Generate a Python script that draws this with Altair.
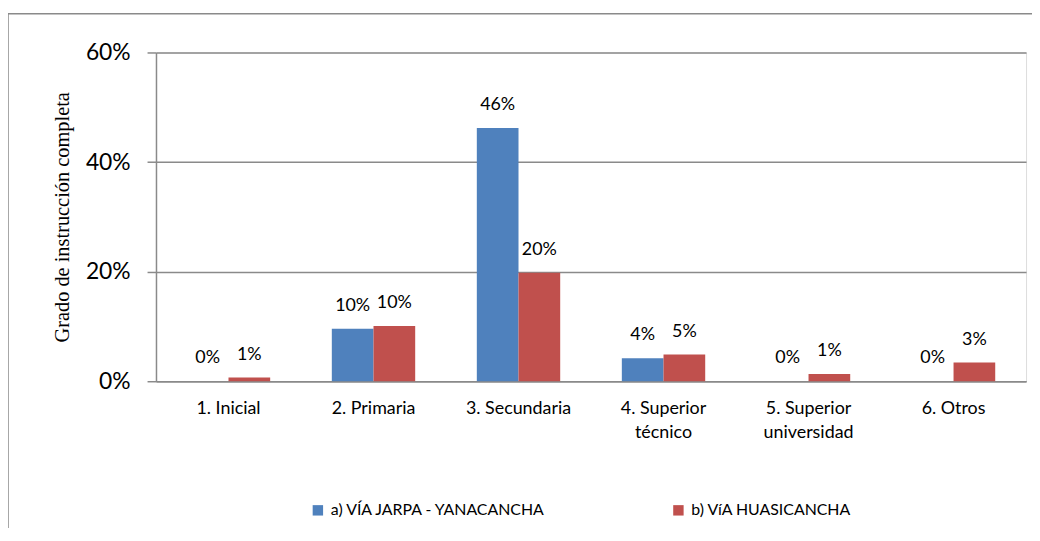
import altair as alt
import pandas as pd

categories = ["1. Inicial", "2. Primaria", "3. Secundaria", "4. Superior técnico",
              "5. Superior universidad", "6. Otros"]
series = ["a) VÍA JARPA - YANACANCHA", "b) VíA HUASICANCHA"]
jarpa = [0.0, 0.096, 0.462, 0.042, 0.0, 0.0]
huasi = [0.007, 0.101, 0.198, 0.049, 0.013, 0.034]
y_ticks = [0, 0.2, 0.4, 0.6]
colors = ["#4F81BD", "#C0504D"]

rows = []
for c, a, b in zip(categories, jarpa, huasi):
    rows.append({"cat": c, "serie": series[0], "val": a})
    rows.append({"cat": c, "serie": series[1], "val": b})
df = pd.DataFrame(rows)

FONT = "Lato"
GRAY = "#8a8a8a"

x_enc = alt.X(
    "cat:N", sort=categories, title=None,
    scale=alt.Scale(paddingInner=0.425, paddingOuter=0.2125),
    axis=alt.Axis(
        labelAngle=0, labelFont=FONT, labelFontSize=18, labelColor="black",
        domainColor=GRAY, domainWidth=1.5, ticks=False, labelPadding=19,
        labelLineHeight=24, grid=False,
        labelExpr="indexof(datum.label, 'Superior ') >= 0 ? split(replace(datum.label, 'Superior ', 'Superior|'), '|') : datum.label",
    ),
)
xoff = alt.XOffset("serie:N", sort=series, scale=alt.Scale(paddingInner=0, paddingOuter=0))
y_enc = alt.Y(
    "val:Q", title="Grado de instrucción completa",
    scale=alt.Scale(domain=[0, 0.6], nice=False),
    axis=alt.Axis(
        values=y_ticks, format=".0%", labelFont=FONT, labelFontSize=23, labelColor="black",
        labelPadding=17, tickSize=9, tickColor=GRAY, tickWidth=1.5,
        domainColor=GRAY, domainWidth=1.5, grid=True, gridColor=GRAY, gridWidth=1.5,
        titleFont="Liberation Serif", titleFontSize=20.5, titleFontWeight="normal",
        titleColor="black", titlePadding=13,
    ),
)

base = alt.Chart(df)

bars = base.mark_bar().encode(
    x=x_enc, xOffset=xoff, y=y_enc,
    color=alt.Color(
        "serie:N", sort=series,
        scale=alt.Scale(domain=series, range=colors),
        legend=alt.Legend(
            title=None, orient="none", legendX=155, legendY=453, direction="horizontal",
            columns=2, symbolType="square", symbolSize=110, symbolStrokeWidth=0,
            labelFont=FONT, labelFontSize=16, labelColor="black", labelOffset=5,
            columnPadding=124, padding=0, labelLimit=400,
        ),
    ),
)

labels = base.mark_text(dy=-23, baseline="middle", font=FONT, fontSize=18, color="black").encode(
    x=x_enc, xOffset=xoff, y=y_enc,
    text=alt.Text("val:Q", format=".0%"),
)

border = alt.Chart(pd.DataFrame({"k": [0]})).mark_rect(
    fill="transparent", stroke=GRAY, strokeWidth=1.5
).encode(
    x=alt.value(-149), x2=alt.value(2000), y=alt.value(-39), y2=alt.value(2000)
)

chart = alt.layer(border, bars, labels).properties(
    width=876, height=331,
    autosize="none",
    padding={"left": 149, "top": 43, "right": 6, "bottom": 146},
).configure_view(stroke=None).configure(background="white")

chart.save("out.html", embed_options={"renderer": "svg", "actions": False})
